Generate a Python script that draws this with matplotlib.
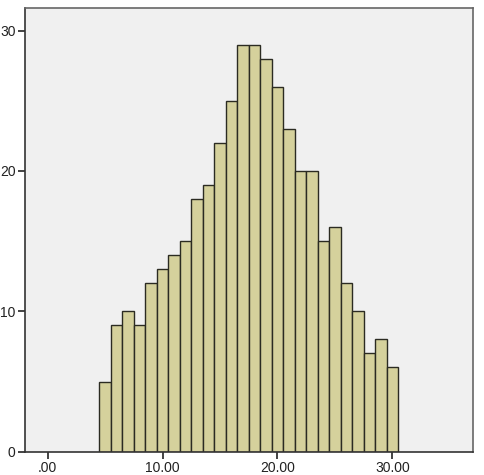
import numpy as np
import matplotlib
matplotlib.use("Agg")
import matplotlib.pyplot as plt

plt.rcParams['font.family'] = ['Liberation Sans', 'DejaVu Sans']

# Histogram bins (width 1, centred on integers) and counts
bin_centers = list(range(5, 31))
counts = [5, 9, 10, 9, 12, 13, 14, 15, 18, 19, 22, 25, 29, 29, 28, 26,
          23, 20, 20, 15, 16, 12, 10, 7, 8, 6]
x_ticks = [0, 10, 20, 30]
x_tick_labels = [".00", "10.00", "20.00", "30.00"]
y_ticks = [0, 10, 20, 30]

fig = plt.figure(figsize=(4.84, 4.75), dpi=100)
ax = fig.add_axes([0.052, 0.049, 0.925, 0.934])
ax.set_facecolor("#f0f0f0")

ax.bar(bin_centers, counts, width=1.0, color="#d5d19c",
       edgecolor="#2b2b22", linewidth=1.0)

ax.set_xlim(-1.95, 37.0)
ax.set_ylim(0, 31.6)
ax.set_xticks(x_ticks)
ax.set_xticklabels(x_tick_labels)
ax.set_yticks(y_ticks)
ax.tick_params(length=5, width=1.2, color="#222222", labelsize=10,
               labelcolor="#222222", pad=2)

for side in ["top", "right"]:
    ax.spines[side].set_color("#666666")
    ax.spines[side].set_linewidth(1.2)
for side in ["left", "bottom"]:
    ax.spines[side].set_color("#333333")
    ax.spines[side].set_linewidth(1.2)

fig.savefig("out.png", dpi=100)
